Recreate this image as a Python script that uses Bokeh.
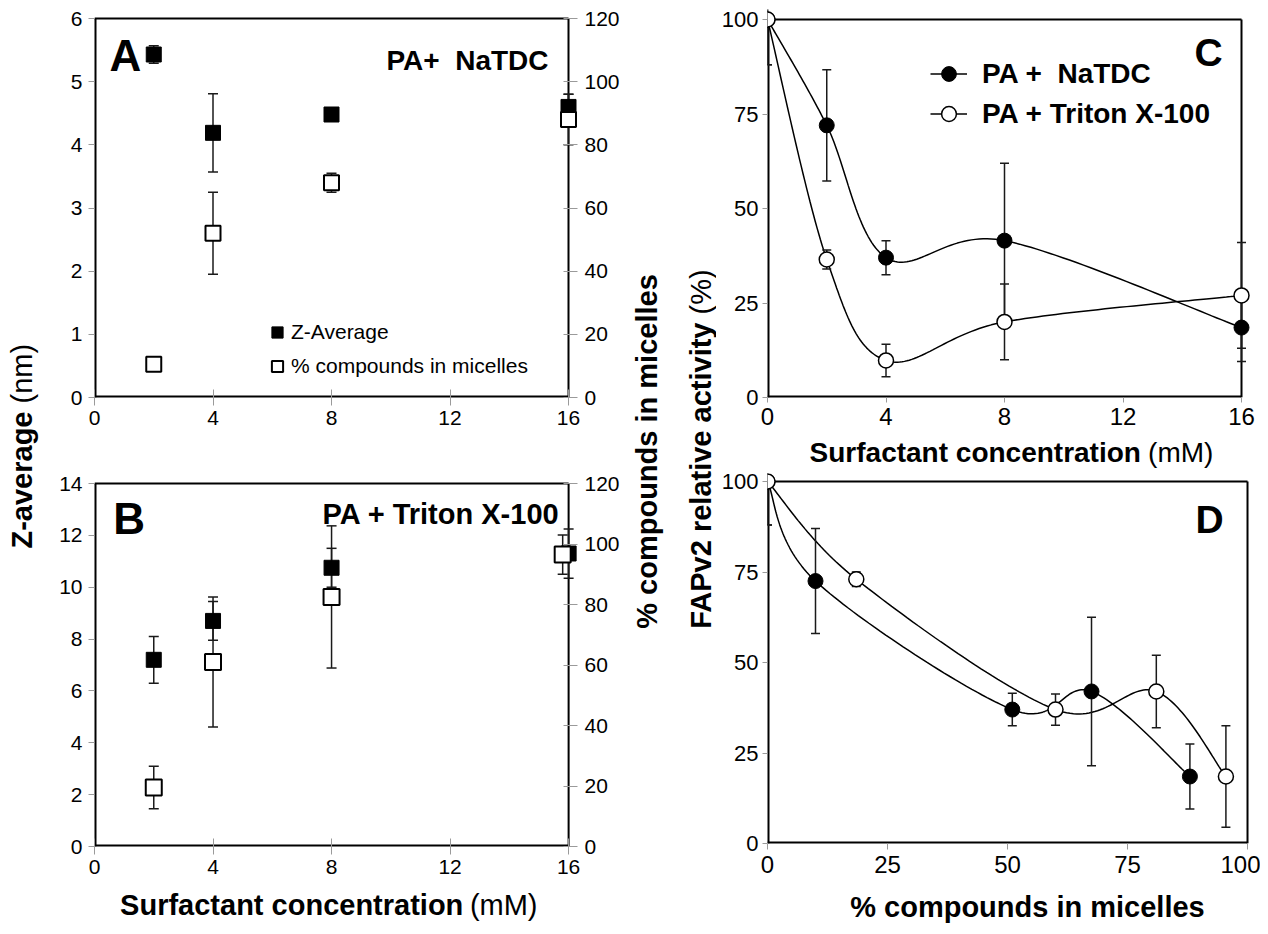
import numpy as np
from bokeh.plotting import figure
from bokeh.layouts import row, column
from bokeh.models import Range1d, LinearAxis, Label, FixedTicker, Legend, LegendItem
from bokeh.embed import file_html
from bokeh.resources import INLINE

FONT = "Liberation Sans"
INK = "#1a1a1a"
TICK = "#9a9a9a"

# ---------------- data ----------------
conc = [2, 4, 8, 16]
a_zavg = [5.43, 4.19, 4.48, 4.6]
a_zavg_err = [0.14, 0.62, 0.08, 0.2]
a_pct = [10.5, 52, 68, 88]
a_pct_err = [0, 13, 3, 8]

b_zavg = [7.2, 8.7, 10.75, 11.3]
b_zavg_err = [0.9, 0.75, 0.75, 0.95]
b_pct_x = [2, 4, 8, 15.8]
b_pct = [19.5, 61, 82.5, 96.5]
b_pct_err = [7, 21.5, 23.5, 6.5]

c_conc = [0, 2, 4, 8, 16]
c_natdc = [100, 72, 37, 41.5, 18.5]
c_natdc_err = [12, 14.7, 4.5, 20.5, 9]
c_triton = [100, 36.5, 9.8, 20, 27]
c_triton_err = [12, 2.5, 4.3, 10, 14]

d_natdc_x = [0, 10, 51, 67.5, 88]
d_natdc = [100, 72.5, 37, 42, 18.5]
d_natdc_err = [12, 14.5, 4.5, 20.5, 9]
d_triton_x = [0, 18.5, 60, 81, 95.5]
d_triton = [100, 73, 37, 42, 18.5]
d_triton_err = [12, 2, 4.3, 10, 14]

ab_xticks = [0, 4, 8, 12, 16]
a_yticks = [0, 1, 2, 3, 4, 5, 6]
b_yticks = [0, 2, 4, 6, 8, 10, 12, 14]
pct_ticks = [0, 20, 40, 60, 80, 100, 120]
c_xticks = [0, 4, 8, 12, 16]
act_ticks = [0, 25, 50, 75, 100]
d_xticks = [0, 25, 50, 75, 100]

NB = "\u00a0"


# ---------------- helpers ----------------
def make_panel(ox, oy, W, H, L, R, T, B, pr, pt, xmax, ymax):
    xr = Range1d(0, xmax * (R + pr - L) / (R - L))
    yr = Range1d(0, ymax * (B - (T - pt)) / (B - T))
    p = figure(width=W, height=H, x_range=xr, y_range=yr, output_backend="svg",
               toolbar_location=None, title=None,
               min_border_left=L - ox, min_border_right=(ox + W) - (R + pr),
               min_border_top=(T - pt) - oy, min_border_bottom=(oy + H) - B,
               outline_line_color=None, background_fill_color="white",
               border_fill_color="white")
    p.grid.visible = False
    geo = dict(L=L, R=R, T=T, B=B, xmax=xmax, ymax=ymax, pt=pt)
    return p, geo


def style_axis(ax, ticks, fs, tin, tout, standoff):
    ax.ticker = FixedTicker(ticks=ticks)
    ax.axis_line_color = None
    ax.minor_tick_line_color = None
    ax.major_tick_line_color = TICK
    ax.major_tick_line_width = 1
    ax.major_tick_in = tin
    ax.major_tick_out = tout
    ax.major_label_standoff = standoff
    ax.major_label_text_font = FONT
    ax.major_label_text_font_size = fs
    ax.major_label_text_color = "black"


def draw_box(p, xmax, ymax):
    # left/bottom sit on the frame edge (half clipped) -> thicker
    p.segment(x0=[0, 0], y0=[0, 0], x1=[xmax, 0], y1=[0, ymax],
              line_color="black", line_width=4)
    p.segment(x0=[0, xmax], y0=[ymax, 0], x1=[xmax, xmax], y1=[ymax, ymax],
              line_color="black", line_width=2)


def errbars(p, x, y, e, cap=10, **kw):
    x = np.asarray(x, float)
    y = np.asarray(y, float)
    e = np.asarray(e, float)
    m = e > 0
    p.segment(x0=x[m], y0=y[m] - e[m], x1=x[m], y1=y[m] + e[m],
              line_color=INK, line_width=1.5, **kw)
    p.scatter(np.r_[x[m], x[m]], np.r_[y[m] - e[m], y[m] + e[m]], marker="dash",
              size=cap, line_color=INK, line_width=1.5, **kw)


def to_data(geo, px, py):
    x = (px - geo["L"]) / (geo["R"] - geo["L"]) * geo["xmax"]
    y = (geo["B"] - py) / (geo["B"] - geo["T"]) * geo["ymax"]
    return x, y


def text(p, geo, px, py, s, size, bold=True, align="left"):
    # py is the vertical middle of the text line
    x, y = to_data(geo, px, py)
    p.add_layout(Label(x=x, y=y, text=s, text_font=FONT, text_font_size=size,
                       text_font_style="bold" if bold else "normal",
                       text_align=align, text_baseline="middle",
                       text_color="black"))


def smooth(xs, ys, sx, sy, n=40):
    P = np.column_stack([np.asarray(xs, float) * sx, np.asarray(ys, float) * sy])
    out = []
    for i in range(len(P) - 1):
        p0 = P[i - 1] if i > 0 else P[i]
        p1, p2 = P[i], P[i + 1]
        p3 = P[i + 2] if i + 2 < len(P) else P[i + 1]
        c1 = p1 + (p2 - p0) / 6.0
        c2 = p2 - (p3 - p1) / 6.0
        t = np.linspace(0, 1, n)[:, None]
        bz = (1 - t) ** 3 * p1 + 3 * (1 - t) ** 2 * t * c1 + 3 * (1 - t) * t ** 2 * c2 + t ** 3 * p2
        out.append(bz if i == 0 else bz[1:])
    Q = np.vstack(out)
    return Q[:, 0] / sx, Q[:, 1] / sy


# strips: blank figures whose data coordinates equal page pixels
def strip(ox, oy, W, H):
    p = figure(width=W, height=H, x_range=Range1d(ox, ox + W), y_range=Range1d(oy + H, oy),
               output_backend="svg", toolbar_location=None, title=None,
               x_axis_location=None, y_axis_location=None, min_border=0,
               outline_line_color=None, background_fill_color="white",
               border_fill_color="white")
    p.grid.visible = False
    return p


def slabel(p, x, y, s, size, bold=True, align="center", angle=0.0):
    p.add_layout(Label(x=x, y=y, text=s, angle=angle, text_font=FONT,
                       text_font_size=size, text_font_style="bold" if bold else "normal",
                       text_align=align, text_baseline="middle", text_color="black"))


# ---------------- panel A ----------------
pA, gA = make_panel(40, 0, 588, 445, 94, 568, 18, 397, 9, 3, 16, 6)
pA.extra_y_ranges = {"pct": Range1d(0, 120 * (397 - 15) / (397 - 18))}
pA.add_layout(LinearAxis(y_range_name="pct"), "right")
style_axis(pA.xaxis[0], ab_xticks, "21px", 8, 8, 5)
style_axis(pA.yaxis[0], a_yticks, "21px", 0, 6, 6)
style_axis(pA.yaxis[1], pct_ticks, "21px", 14, 0, 7)
draw_box(pA, 16, 6)
errbars(pA, conc, a_zavg, a_zavg_err)
errbars(pA, conc, a_pct, a_pct_err, y_range_name="pct")
rA1 = pA.scatter(conc, a_zavg, marker="square", size=15, fill_color="black", line_color="black")
rA2 = pA.scatter(conc, a_pct, marker="square", size=15, fill_color="white", line_color="black",
                 line_width=2, y_range_name="pct")
text(pA, gA, 109, 55, "A", "44px")
text(pA, gA, 548, 60, "PA+ " + NB + "NaTDC", "28px", align="right")
legA = Legend(items=[LegendItem(label="Z-Average", renderers=[rA1]),
                     LegendItem(label="% compounds in micelles", renderers=[rA2])],
              location=(169, 16), glyph_width=28, glyph_height=30, label_standoff=0,
              spacing=4, padding=0, margin=0, border_line_color=None,
              background_fill_alpha=0, label_text_font=FONT, label_text_font_size="21px",
              label_text_color="black", label_height=10)
pA.add_layout(legA)

# ---------------- panel B ----------------
pB, gB = make_panel(40, 445, 588, 439, 92, 572, 483, 846, 9, 3, 16, 14)
pB.extra_y_ranges = {"pct": Range1d(0, 120 * (846 - 480) / (846 - 483))}
pB.add_layout(LinearAxis(y_range_name="pct"), "right")
style_axis(pB.xaxis[0], ab_xticks, "21px", 8, 8, 5)
style_axis(pB.yaxis[0], b_yticks, "21px", 0, 6, 6)
style_axis(pB.yaxis[1], pct_ticks, "21px", 14, 0, 7)
draw_box(pB, 16, 14)
errbars(pB, conc, b_zavg, b_zavg_err)
errbars(pB, b_pct_x, b_pct, b_pct_err, y_range_name="pct")
pB.scatter(conc, b_zavg, marker="square", size=15, fill_color="black", line_color="black")
pB.scatter(b_pct_x, b_pct, marker="square", size=16, fill_color="white", line_color="black",
           line_width=2, y_range_name="pct")
text(pB, gB, 111, 518, "B", "44px")
text(pB, gB, 563, 513, "PA + Triton X-100", "29px", align="right")

xB = strip(40, 884, 588, 42)
slabel(xB, 489, 904, "Surfactant concentration", "29px", align="right")
slabel(xB, 497, 904, "(mM)", "29px", bold=False, align="left")

# ---------------- panel C ----------------
pC, gC = make_panel(716, 0, 544, 435, 767, 1241, 19, 397, 12, 10, 16, 100)
style_axis(pC.xaxis[0], c_xticks, "24px", 0, 5, 5)
style_axis(pC.yaxis[0], act_ticks, "22px", 0, 5, 4)
draw_box(pC, 16, 100)
sxC = (1241 - 767) / 16.0
syC = (397 - 19) / 100.0
lx, ly = smooth(c_conc, c_natdc, sxC, syC)
rC1l = pC.line(lx, ly, line_color="black", line_width=1.5)
lx, ly = smooth(c_conc, c_triton, sxC, syC)
rC2l = pC.line(lx, ly, line_color="black", line_width=1.5)
errbars(pC, c_conc, c_natdc, c_natdc_err, cap=9)
errbars(pC, c_conc, c_triton, c_triton_err, cap=9)
rC1 = pC.scatter(c_conc, c_natdc, marker="circle", size=15, fill_color="black", line_color="black")
rC2 = pC.scatter(c_conc, c_triton, marker="circle", size=15, fill_color="white",
                 line_color="black", line_width=1.5)
text(pC, gC, 1194, 52, "C", "39px")
legC = Legend(items=[LegendItem(label="PA + " + NB + "NaTDC", renderers=[rC1l, rC1]),
                     LegendItem(label="PA + Triton X-100", renderers=[rC2l, rC2])],
              location=(163, 265), glyph_width=37, glyph_height=37, label_standoff=15,
              spacing=3, padding=0, margin=0, border_line_color=None,
              background_fill_alpha=0, label_text_font=FONT, label_text_font_size="28px",
              label_text_font_style="bold", label_text_color="black", label_height=10)
pC.add_layout(legC)

xC = strip(716, 435, 544, 33)
slabel(xC, 1134, 451.5, "Surfactant concentration", "28px", align="right")
slabel(xC, 1142, 451.5, "(mM)", "28px", bold=False, align="left")

# ---------------- panel D ----------------
pD, gD = make_panel(716, 468, 544, 416, 767, 1248, 481, 843, 6, 8, 100, 100)
style_axis(pD.xaxis[0], d_xticks, "24px", 0, 6, 6)
style_axis(pD.yaxis[0], act_ticks, "22px", 0, 5, 4)
draw_box(pD, 100, 100)
sxD = (1248 - 767) / 100.0
syD = (843 - 481) / 100.0
lx, ly = smooth(d_natdc_x, d_natdc, sxD, syD)
pD.line(lx, ly, line_color="black", line_width=1.5)
lx, ly = smooth(d_triton_x, d_triton, sxD, syD)
pD.line(lx, ly, line_color="black", line_width=1.5)
errbars(pD, d_natdc_x, d_natdc, d_natdc_err, cap=9)
errbars(pD, d_triton_x, d_triton, d_triton_err, cap=9)
pD.scatter(d_natdc_x, d_natdc, marker="circle", size=15, fill_color="black", line_color="black")
pD.scatter(d_triton_x, d_triton, marker="circle", size=15, fill_color="white",
           line_color="black", line_width=1.5)
text(pD, gD, 1196, 519, "D", "39px")

xD = strip(716, 884, 544, 42)
slabel(xD, 1007, 906, "% compounds in micelles", "29px", align="center")

# ---------------- vertical axis-title strips ----------------
s1 = strip(0, 0, 40, 926)
slabel(s1, 21, 411, "Z-average", "29px", align="right", angle=np.pi / 2)
slabel(s1, 21, 403, "(nm)", "29px", bold=False, align="left", angle=np.pi / 2)

s2 = strip(628, 0, 88, 926)
slabel(s2, 646, 451, "% compounds in micelles", "29px", angle=np.pi / 2)
slabel(s2, 700, 322, "FAPv2 relative activity", "29px", align="right", angle=np.pi / 2)
slabel(s2, 700, 314, "(%)", "29px", bold=False, align="left", angle=np.pi / 2)

layout = row(s1, column(pA, pB, xB), s2, column(pC, xC, pD, xD))
open("out.html", "w").write(file_html(layout, INLINE))
